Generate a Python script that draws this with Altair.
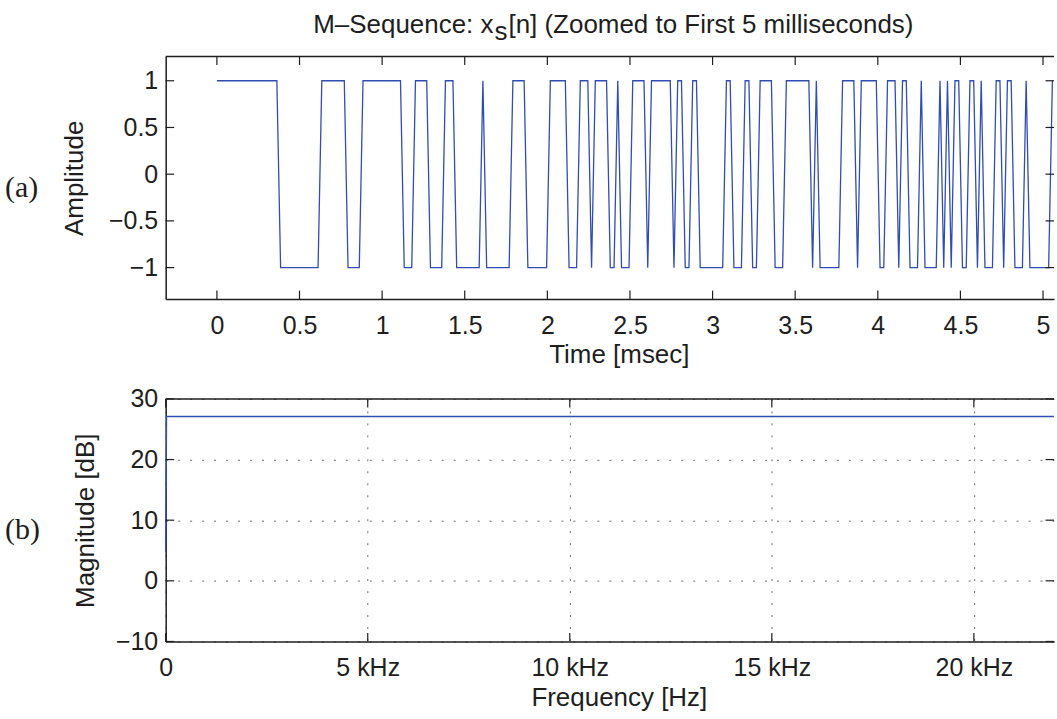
import altair as alt
import pandas as pd

# ---------------- data ----------------
SAMPLES_PER_MS = 44.1  # fs = 44.1 kHz

# M-sequence (a): alternating runs of +1 / -1, starting with +1 at n = 0
run_values = [1, -1] * 33 + [1]
run_lengths = [17, 11, 7, 4, 11, 3, 4, 4, 3, 7, 1, 7, 4, 6, 5, 3, 3, 1, 4, 2,
               1, 3, 4, 1, 6, 1, 2, 2, 2, 7, 2, 3, 2, 2, 4, 3, 7, 1, 1, 6,
               4, 1, 5, 2, 3, 1, 2, 3, 1, 4, 1, 1, 1, 1, 2, 2, 2, 1, 1, 3,
               2, 1, 2, 3, 1, 6, 1]

time_ticks = [0, 0.5, 1, 1.5, 2, 2.5, 3, 3.5, 4, 4.5, 5]
amp_ticks = [-1, -0.5, 0, 0.5, 1]

# spectrum (b)
freq_hz = [0, 21.5, 21980]
mag_db = [4.7, 27.1, 27.1]
freq_ticks = [0, 5000, 10000, 15000, 20000]
db_ticks = [-10, 0, 10, 20, 30]

amps = []
for v, L in zip(run_values, run_lengths):
    amps += [v] * L
df_top = pd.DataFrame({"t": [n / SAMPLES_PER_MS for n in range(len(amps))], "amp": amps})
df_bot = pd.DataFrame({"t": freq_hz, "amp": mag_db})

# ---------------- styling ----------------
W, H = 890, 243
BLUE = "#2f4db3"
AX = "#1e1e1e"
TXT = "#1e1e1e"
SANS = "Liberation Sans"
SERIF = "Liberation Serif"
TL = 8.5  # inward tick length
LAB = 25
TIT = 26

one = pd.DataFrame({"k": [0]})


def axis(values, title, orient, **kw):
    base = dict(values=values, title=title, ticks=False, tickSize=0, grid=False,
                labelFont=SANS, labelFontSize=LAB, labelColor=TXT,
                labelFlush=False, labelOverlap=False,
                domainColor=AX, domainWidth=1.5,
                titleFont=SANS, titleFontSize=TIT, titleFontWeight="normal",
                titleColor=TXT, titleBaseline="alphabetic", titleAlign="center")
    if orient == "bottom":
        base.update(labelPadding=14, titleX=454, titleY=64)
    else:
        base.update(labelPadding=8, titleAngle=270, titleY=H / 2)
    base.update(kw)
    return alt.Axis(**base)


def panel(df, xs, ys, xax, yax, xticks, yticks, extra):
    X = alt.X("t:Q", scale=xs, axis=xax)
    Y = alt.Y("amp:Q", scale=ys, axis=yax)
    xt = pd.DataFrame({"t": xticks})
    yt = pd.DataFrame({"amp": yticks})
    r = dict(color=AX, strokeWidth=1.2)
    layers = [
        alt.Chart(df).mark_line(color=BLUE, strokeWidth=1.3).encode(x=X, y=Y),
        alt.Chart(xt).mark_rule(**r).encode(x=X, y=alt.value(H), y2=alt.value(H - TL)),
        alt.Chart(xt).mark_rule(**r).encode(x=X, y=alt.value(0), y2=alt.value(TL)),
        alt.Chart(yt).mark_rule(**r).encode(y=Y, x=alt.value(0), x2=alt.value(TL)),
        alt.Chart(yt).mark_rule(**r).encode(y=Y, x=alt.value(W - TL), x2=alt.value(W)),
        alt.Chart(one).mark_rule(color=AX, strokeWidth=1.5).encode(
            x=alt.value(0), x2=alt.value(W), y=alt.value(0)),
    ]
    return alt.layer(*layers, *extra).properties(width=W, height=H)


# ---------------- top panel ----------------
x_top = alt.Scale(domain=[-0.31, 5.0665], nice=False, zero=False)
y_top = alt.Scale(domain=[-1.337, 1.259], nice=False, zero=False)
xax_top = axis(time_ticks, "Time [msec]", "bottom", format="~g")
yax_top = axis(amp_ticks, "Amplitude", "left", format="~g", titleX=-83)

title_kw = dict(font=SANS, fontSize=26, color=TXT, baseline="alphabetic")
t1 = alt.Chart(one).mark_text(text="M\u2013Sequence: x", align="right", **title_kw).encode(
    x=alt.value(328.4), y=alt.value(-24))
t2 = alt.Chart(one).mark_text(text="s", align="left", **title_kw).encode(
    x=alt.value(329.4), y=alt.value(-17))
t3 = alt.Chart(one).mark_text(text="[n] (Zoomed to First 5 milliseconds)", align="left",
                              **title_kw).encode(x=alt.value(343.4), y=alt.value(-24))
lab_a = alt.Chart(one).mark_text(text="(a)", align="left", baseline="middle", font=SERIF,
                                 fontSize=30, color=TXT).encode(
    x=alt.value(-161), y=alt.value(132))

top = panel(df_top, x_top, y_top, xax_top, yax_top, time_ticks, amp_ticks,
            [t1, t2, t3, lab_a])

# ---------------- bottom panel ----------------
x_bot = alt.Scale(domain=[0, 21983], nice=False, zero=False)
y_bot = alt.Scale(domain=[-10, 30], nice=False, zero=False)
grid_kw = dict(grid=True, gridDash=[2, 10], gridColor="#6a6a6a", gridWidth=1)
xax_bot = axis(freq_ticks, "Frequency [Hz]", "bottom",
               labelExpr="datum.value == 0 ? '0' : format(datum.value / 1000, 'd') + ' kHz'",
               **grid_kw)
yax_bot = axis(db_ticks, "Magnitude [dB]", "left", format="d", titleX=-72, **grid_kw)

lab_b = alt.Chart(one).mark_text(text="(b)", align="left", baseline="middle", font=SERIF,
                                 fontSize=30, color=TXT).encode(
    x=alt.value(-161), y=alt.value(131.5))

bottom = panel(df_bot, x_bot, y_bot, xax_bot, yax_bot, freq_ticks, db_ticks, [lab_b])

chart = alt.vconcat(top, bottom, spacing=100, bounds="flush").properties(
    padding={"left": 5, "top": 11, "right": 0, "bottom": 0},
    background="white",
).configure_view(stroke=None)

chart.save("out.html", embed_options={"renderer": "svg", "actions": False})
